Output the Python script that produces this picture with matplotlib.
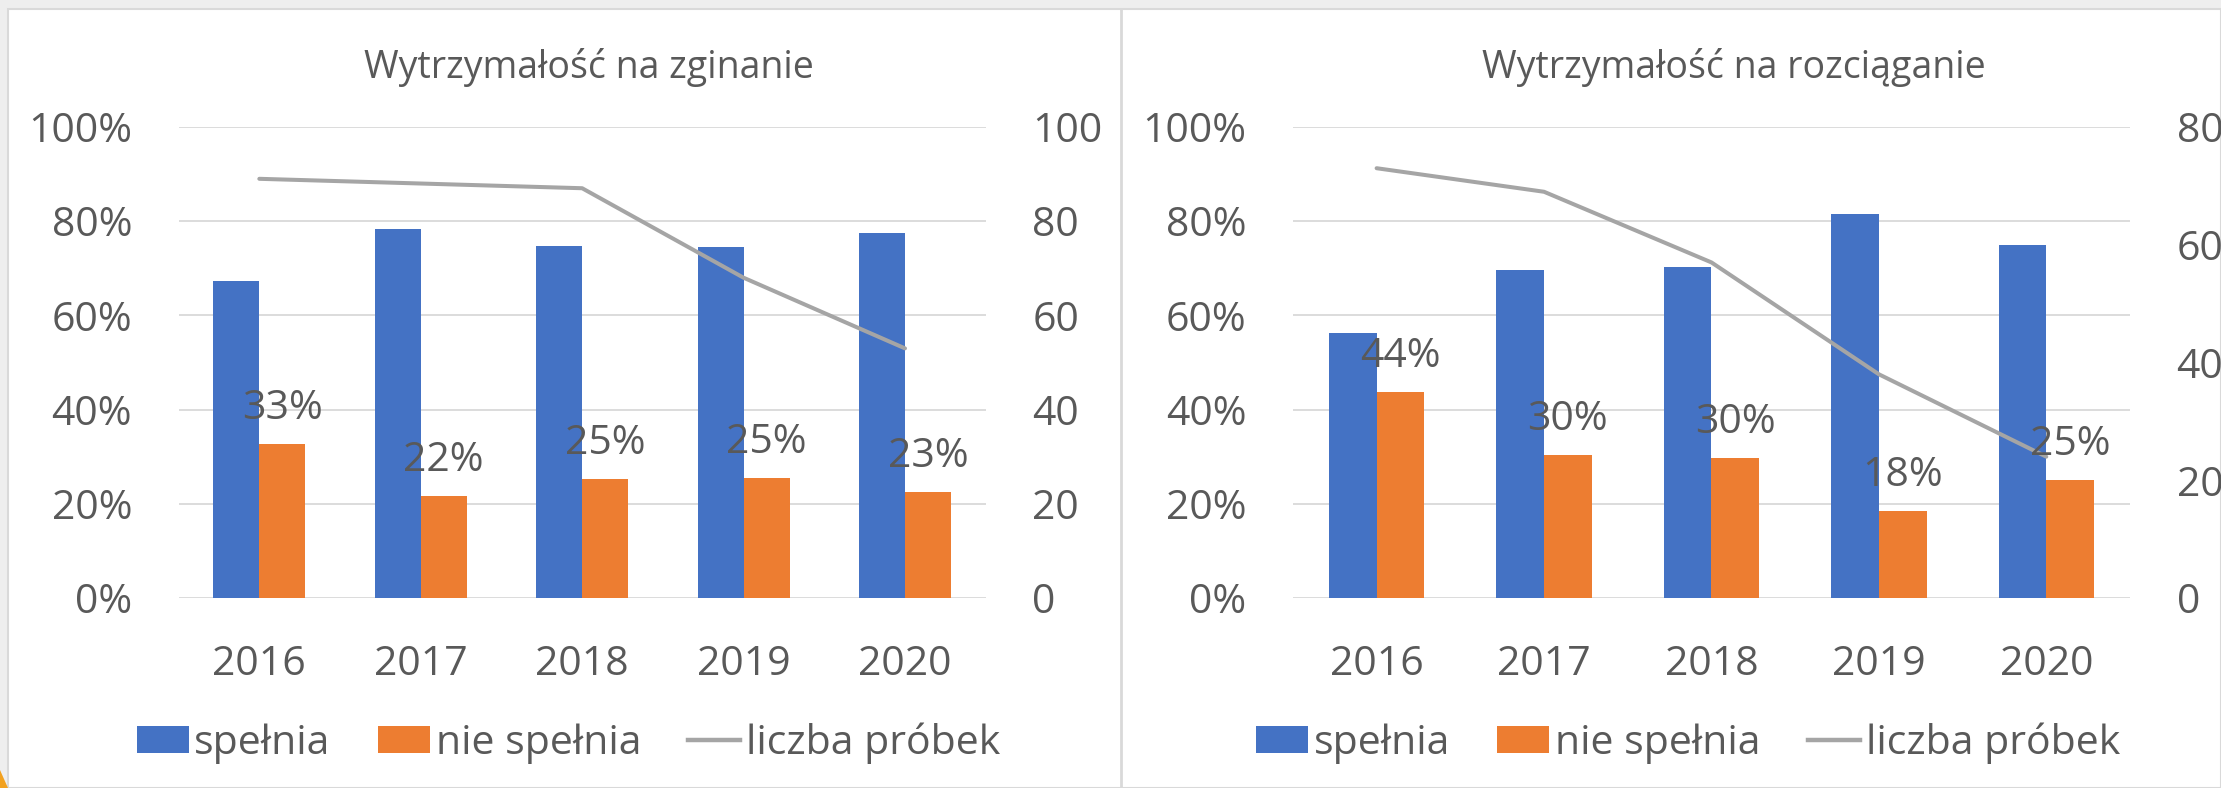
import matplotlib
matplotlib.use("Agg")
import matplotlib.pyplot as plt
from matplotlib.patches import Patch, Rectangle, Polygon
from matplotlib.lines import Line2D
from matplotlib.ticker import FuncFormatter

plt.rcParams['font.family'] = ['Open Sans', 'DejaVu Sans']

# ---- data ----
years = ["2016", "2017", "2018", "2019", "2020"]

titles = ["Wytrzymałość na zginanie", "Wytrzymałość na rozciąganie"]
series_names = ["spełnia", "nie spełnia", "liczba próbek"]

zg_spelnia = [0.673, 0.784, 0.748, 0.746, 0.774]
zg_nie = [0.327, 0.216, 0.252, 0.254, 0.226]
zg_liczba = [89, 88, 87, 68, 53]

rc_spelnia = [0.562, 0.696, 0.702, 0.816, 0.75]
rc_nie = [0.438, 0.304, 0.298, 0.184, 0.25]
rc_liczba = [73, 69, 57, 38, 24]

right_max = [100, 80]

# ---- style ----
BLUE = "#4472c4"
ORANGE = "#ed7d31"
GRAY = "#a5a5a5"
TXT = "#595959"
GRID = "#d9d9d9"
FS = 29.5
TFS = 27

W, H = 2221, 788
fig = plt.figure(figsize=(W / 100, H / 100), dpi=100, facecolor="#eeeeee")

def fx(px):
    return px / W

def fy(py):
    return 1 - py / H

# panel backgrounds / borders
fig.patches.append(Rectangle((fx(8), 0), 1 - fx(8), fy(9), transform=fig.transFigure,
                             facecolor="white", edgecolor=GRID, lw=1.5, zorder=-3))
fig.lines.append(Line2D([fx(1121), fx(1121)], [0, fy(9)], transform=fig.transFigure,
                        color=GRID, lw=2, zorder=-2))
fig.patches.append(Polygon([(0, fy(770)), (0, 0), (fx(8), 0)], closed=True,
                           transform=fig.transFigure, facecolor="#f2a11f",
                           edgecolor="none", zorder=-2))

panels = [
    dict(x0=178.6, x1=985.7, sp=zg_spelnia, nie=zg_nie, n=zg_liczba, rmax=right_max[0],
         title=titles[0], tx=589, leg_cx=568.5),
    dict(x0=1292.9, x1=2130.0, sp=rc_spelnia, nie=rc_nie, n=rc_liczba, rmax=right_max[1],
         title=titles[1], tx=1734, leg_cx=1688),
]

y_top, y_bot = 127, 598
bw = 0.285
xs = list(range(len(years)))

for p in panels:
    ax = fig.add_axes([fx(p["x0"]), fy(y_bot), fx(p["x1"]) - fx(p["x0"]), (y_bot - y_top) / H])
    ax.set_facecolor("none")
    ax.set_axisbelow(True)
    ax.bar([x - bw / 2 for x in xs], p["sp"], width=bw, color=BLUE, zorder=2)
    ax.bar([x + bw / 2 for x in xs], p["nie"], width=bw, color=ORANGE, zorder=2)
    ax.set_xlim(-0.5, len(years) - 0.5)
    ax.set_ylim(0, 1)
    ax.set_yticks([0, 0.2, 0.4, 0.6, 0.8, 1.0])
    ax.yaxis.set_major_formatter(FuncFormatter(lambda v, pos: f"{v:.0%}"))
    ax.grid(axis="y", color=GRID, lw=1.3)
    for s in ax.spines.values():
        s.set_visible(False)
    ax.set_xticks(xs)
    ax.set_xticklabels(years)
    ax.tick_params(axis="y", length=0, pad=33.5, labelsize=FS, labelcolor=TXT)
    ax.tick_params(axis="x", length=0, pad=55.4, labelsize=FS, labelcolor=TXT)
    for lab in ax.get_xticklabels():
        lab.set_verticalalignment("baseline")

    ax2 = ax.twinx()
    ax2.set_ylim(0, p["rmax"])
    ax2.set_yticks(list(range(0, p["rmax"] + 1, 20)))
    for s in ax2.spines.values():
        s.set_visible(False)
    ax2.tick_params(axis="y", length=0, pad=33.5, labelsize=FS, labelcolor=TXT)
    ax2.plot(xs, p["n"], color=GRAY, lw=2.9, solid_capstyle="round", zorder=3)

    for x, v in zip(xs, p["nie"]):
        ax2.annotate(f"{v:.0%}", xy=(x + bw / 2, v), xycoords=ax.transData,
                     xytext=(0, 18), textcoords="offset points",
                     ha="center", va="baseline", fontsize=FS, color=TXT, zorder=5)

    fig.text(fx(p["tx"]), fy(78), p["title"], ha="center", va="baseline",
             fontsize=TFS, color=TXT)

    handles = [Patch(facecolor=BLUE, edgecolor="none"),
               Patch(facecolor=ORANGE, edgecolor="none"),
               Line2D([0], [0], color=GRAY, lw=3.2)]
    fig.legend(handles, series_names, loc="center",
               bbox_to_anchor=(fx(p["leg_cx"]), fy(743)), ncol=3, frameon=False,
               fontsize=FS, labelcolor=TXT, handlelength=1.27, handleheight=0.63,
               handletextpad=0.14, columnspacing=1.15, borderpad=0, borderaxespad=0)

fig.savefig("out.png", dpi=100, facecolor=fig.get_facecolor())
